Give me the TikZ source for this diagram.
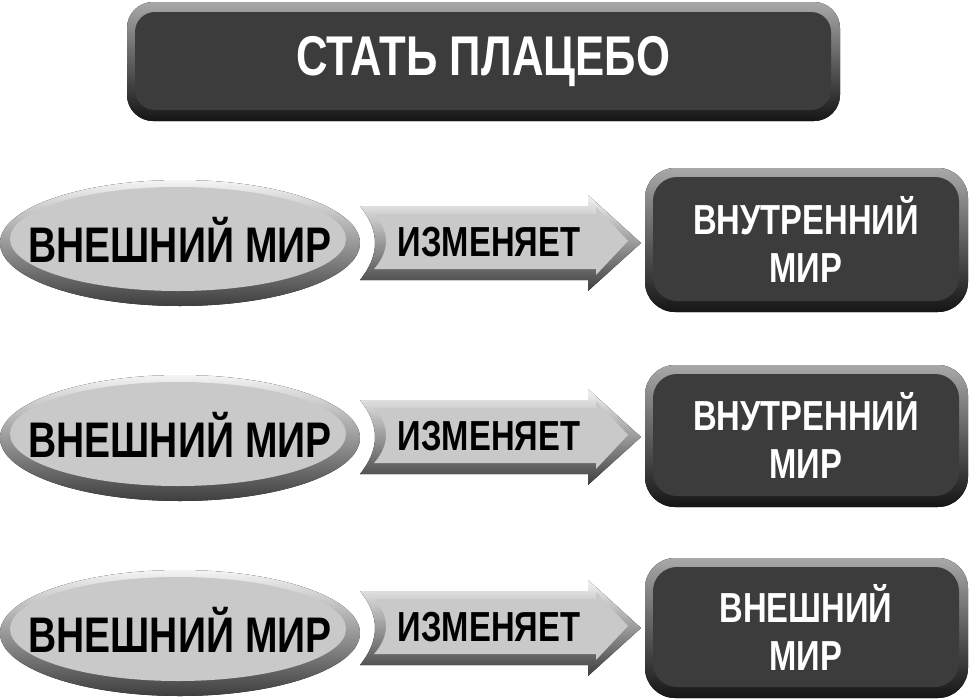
\documentclass[tikz,border=0pt]{standalone}
\usepackage{fontspec}
\newfontfamily\hd{Liberation Sans}[FakeStretch=0.78]
\definecolor{boxfill}{HTML}{3C3C3C}
\definecolor{boxhi}{HTML}{A8A8A8}
\definecolor{boxlo}{HTML}{151515}
\definecolor{elfill}{HTML}{C9C9C9}
\definecolor{elhi}{HTML}{F4F4F4}
\definecolor{ello}{HTML}{3E3E3E}
\tikzset{
  outerdark/.style={top color=boxhi, bottom color=boxlo},
  outerlight/.style={top color=elhi, bottom color=ello},
  titletext/.style={text=white, font=\hd\bfseries\fontsize{56}{60}\selectfont, inner sep=0pt},
  eltext/.style={text=black, font=\hd\bfseries\fontsize{50}{56}\selectfont, inner sep=0pt},
  arrtext/.style={text=black, font=\hd\bfseries\fontsize{42}{48}\selectfont, inner sep=0pt},
  boxtext/.style={text=white, font=\hd\bfseries\fontsize{42}{48}\selectfont, align=center, inner sep=0pt}
}
\begin{document}
\begin{tikzpicture}[x=1pt,y=-1pt]
\useasboundingbox[fill=white] (0,0) rectangle (971,699);
% title box
\fill[outerdark, rounded corners=26pt] (127,2) rectangle (840,121);
\fill[boxfill, rounded corners=20pt] (135,12) rectangle (831,110);
\node[titletext] (title) at (483,62) {СТАТЬ ПЛАЦЕБО};
% rows
\foreach \i/\ey/\ay/\bt/\bb/\txt in {1/243/243/168/312/{ВНУТРЕННИЙ\\МИР},2/438/437/365/507/{ВНУТРЕННИЙ\\МИР},3/633/628/558/698/{ВНЕШНИЙ\\МИР}}{
  % ellipse
  \fill[outerlight] (180,\ey) ellipse [x radius=180, y radius=63];
  \fill[elfill] ({178},{\ey-4}) ellipse [x radius=168, y radius=52];
  \node[eltext] (ell\i) at ({180},{\ey-3}) {ВНЕШНИЙ МИР};
  % arrow
  \fill[outerlight] ({360},{\ay-37}) -- ({588},{\ay-37}) -- ({588},{\ay-48}) -- ({641},{\ay}) -- ({588},{\ay+48}) -- ({588},{\ay+37}) -- ({360},{\ay+37}) .. controls ({380},{\ay+12}) and ({380},{\ay-12}) .. cycle;
  \fill[elfill] ({374},{\ay-29}) -- ({596},{\ay-29}) -- ({596},{\ay-36}) -- ({628},{\ay-2}) -- ({596},{\ay+32}) -- ({596},{\ay+26}) -- ({374},{\ay+26}) .. controls ({390},{\ay+8}) and ({390},{\ay-12}) .. cycle;
  \node[arrtext] (arr\i) at ({489},{\ay-1}) {ИЗМЕНЯЕТ};
  % box
  \fill[outerdark, rounded corners=30pt] ({645},{\bt}) rectangle ({968},{\bb});
  \fill[boxfill, rounded corners=24pt] ({653},{\bt+9}) rectangle ({959},{\bb-11});
  \node[boxtext] (box\i) at ({806},{(\bt+\bb)/2-1}) {\txt};
}
\end{tikzpicture}
\end{document}
